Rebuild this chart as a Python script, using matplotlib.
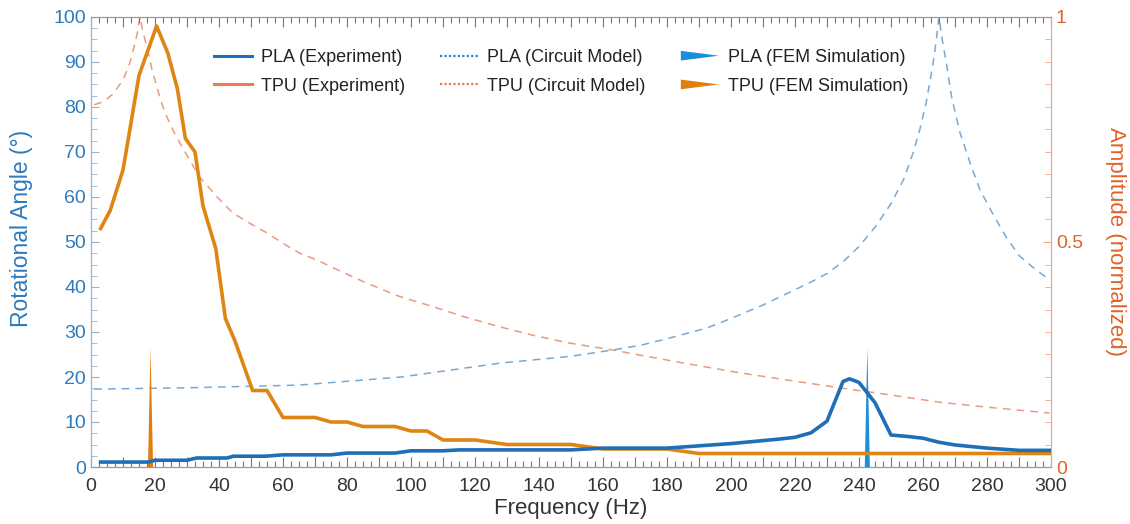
import matplotlib
matplotlib.use("Agg")
import matplotlib.pyplot as plt
from matplotlib.ticker import MultipleLocator, FuncFormatter, FixedLocator
from matplotlib.lines import Line2D
from matplotlib.patches import Polygon
from matplotlib.legend_handler import HandlerBase

plt.rcParams['font.family'] = ['Liberation Sans', 'DejaVu Sans']

# ---------------- data ----------------
pla_exp_freq = [3, 18, 20, 30, 33, 42.5, 44.5, 54.5, 60, 75, 80, 95, 100, 110, 115, 150, 160, 180,
                200, 215, 220, 225, 230, 235, 237, 240, 245, 250, 255, 260, 265, 270, 280, 290, 300]
pla_exp_angle = [1.1, 1.1, 1.5, 1.5, 2.0, 2.0, 2.4, 2.4, 2.7, 2.7, 3.1, 3.1, 3.6, 3.6, 3.8, 3.8, 4.2, 4.2,
                 5.2, 6.2, 6.6, 7.6, 10.2, 19.0, 19.6, 18.8, 14.3, 7.1, 6.8, 6.4, 5.5, 4.9, 4.2, 3.7, 3.7]

tpu_exp_freq = [3, 6, 10, 15, 20.5, 24, 27, 29.5, 32.5, 35, 39, 42, 45, 48, 50.5, 55, 60, 70, 75, 80,
                85, 95, 100, 105, 110, 120, 130, 150, 160, 180, 190, 300]
tpu_exp_angle = [53, 57, 66, 87, 98, 92, 84, 73, 70, 58, 48.5, 33, 28, 22, 17, 17, 11, 11, 10, 10,
                 9, 9, 8, 8, 6, 6, 5, 5, 4, 4, 3, 3]

pla_circ_freq = [1, 30, 65, 97, 128, 150, 163, 172, 180, 192.5, 200, 205, 210, 215, 220, 225, 230, 235,
                 240, 245, 250, 254, 257, 259, 261, 263, 264, 265, 266, 267.5, 269, 271.6, 275, 277.8,
                 282, 286, 290, 295, 299.5]
pla_circ_amp = [0.173, 0.176, 0.182, 0.200, 0.231, 0.246, 0.260, 0.271, 0.285, 0.309, 0.330, 0.345,
                0.360, 0.377, 0.394, 0.411, 0.430, 0.456, 0.490, 0.533, 0.585, 0.640, 0.700, 0.750,
                0.810, 0.890, 0.940, 1.0, 0.950, 0.889, 0.820, 0.742, 0.670, 0.616, 0.560, 0.511,
                0.470, 0.440, 0.416]

tpu_circ_freq = [1, 4, 7, 10, 12, 13.5, 14.5, 15.3, 16.3, 17.5, 19, 20.6, 22, 23.7, 25.5, 27.8, 31, 34,
                 37, 39.4, 44.4, 50, 55, 60, 65, 70.6, 78, 86, 96, 107, 117, 128, 138, 149, 163, 175,
                 190, 203, 215, 234, 250, 265, 280, 299.5]
tpu_circ_amp = [0.805, 0.812, 0.830, 0.860, 0.895, 0.935, 0.965, 1.0, 0.965, 0.933, 0.885, 0.844,
                0.810, 0.778, 0.750, 0.720, 0.680, 0.644, 0.620, 0.600, 0.564, 0.540, 0.520, 0.497,
                0.476, 0.460, 0.435, 0.409, 0.380, 0.356, 0.333, 0.311, 0.293, 0.276, 0.260, 0.244,
                0.225, 0.209, 0.196, 0.176, 0.160, 0.144, 0.133, 0.120]

fem_freq = {'PLA': 242.6, 'TPU': 18.6}
fem_peak = {'PLA': 26.5, 'TPU': 26.5}

y_ticks = list(range(0, 101, 10))
amp_ticks = [0, 0.5, 1]

# ---------------- styles ----------------
C_PLA = '#1F6FB8'
C_TPU = '#DE8514'
C_PLA_C = '#79A9D3'
C_TPU_C = '#E59C82'
C_PLA_F = '#1A90DA'
C_TPU_F = '#E07E10'
C_LEFT = '#2C7BBF'
C_RIGHT = '#E06327'

fig = plt.figure(figsize=(11.3, 5.24), dpi=100)
ax = fig.add_axes([91 / 1130, 1 - 467 / 524, 960 / 1130, 450 / 524])
ax2 = ax.twinx()
ax.set_zorder(ax2.get_zorder() + 1)
ax.patch.set_visible(False)

# circuit model (right axis)
ax2.plot(pla_circ_freq, pla_circ_amp, ls=(0, (5, 4)), color=C_PLA_C, lw=1.1)
ax2.plot(tpu_circ_freq, tpu_circ_amp, ls=(0, (5, 4)), color=C_TPU_C, lw=1.1)

# FEM spikes
half_w = 0.8
for key, col in (('TPU', C_TPU_F), ('PLA', C_PLA_F)):
    f = fem_freq[key]
    h = fem_peak[key]
    ax.fill([f - half_w, f + half_w, f], [0, 0, h], color=col, lw=0, zorder=3)

# experiments
ax.plot(tpu_exp_freq, tpu_exp_angle, color=C_TPU, lw=2.6, zorder=4)
ax.plot(pla_exp_freq, pla_exp_angle, color=C_PLA, lw=2.6, zorder=4)

ax.set_xlim(0, 300)
ax.set_ylim(0, 100)
ax2.set_ylim(0, 1)

# x axis ticks
ax.xaxis.set_major_locator(MultipleLocator(10))
ax.xaxis.set_minor_locator(MultipleLocator(2.5))
ax.xaxis.set_major_formatter(FuncFormatter(lambda v, p: f"{int(round(v))}" if int(round(v)) % 20 == 0 else ""))
ax.tick_params(axis='x', which='both', direction='in', top=True, colors='#777777',
               labelcolor='#333333', labelsize=14, pad=8)
ax.tick_params(axis='x', which='major', length=7, width=0.8)
ax.tick_params(axis='x', which='minor', length=4, width=0.8)

# left y
ax.yaxis.set_major_locator(FixedLocator(y_ticks))
ax.yaxis.set_minor_locator(MultipleLocator(2.5))
ax.tick_params(axis='y', which='both', direction='in', colors='#8FB5D8', labelcolor=C_LEFT,
               labelsize=14, left=True, right=False)
ax.tick_params(axis='y', which='major', length=6)
ax.tick_params(axis='y', which='minor', length=4)

# right y
ax2.yaxis.set_major_locator(FixedLocator(amp_ticks))
ax2.yaxis.set_minor_locator(MultipleLocator(0.05))
ax2.yaxis.set_major_formatter(FuncFormatter(lambda v, p: "0" if v == 0 else ("1" if v == 1 else f"{v:g}")))
ax2.tick_params(axis='y', which='both', direction='in', colors='#F2A484', labelcolor=C_RIGHT,
                labelsize=14)
ax2.tick_params(axis='y', which='major', length=6)
ax2.tick_params(axis='y', which='minor', length=4)

for a in (ax, ax2):
    a.spines['top'].set_color('#9A9A9A')
    a.spines['bottom'].set_color('#9A9A9A')
    a.spines['left'].set_color('#8FB5D8')
    a.spines['right'].set_color('#F2A484')

ax.set_xlabel('Frequency (Hz)', fontsize=16, color='#333333', labelpad=2)
ax.set_ylabel('Rotational Angle (°)', fontsize=16.5, color=C_LEFT)
ax.yaxis.set_label_coords(-0.06, 0.53)
ax2.set_ylabel('Amplitude (normalized)', fontsize=16, color=C_RIGHT, rotation=270, labelpad=31)


class TriHandler(HandlerBase):
    def create_artists(self, legend, orig_handle, xdescent, ydescent, width, height, fontsize, trans):
        cy = height / 2 - ydescent
        x0 = -xdescent
        pts = [[x0, cy - 3.5], [x0, cy + 3.5], [x0 + width, cy]]
        p = Polygon(pts, closed=True, fc=orig_handle.get_facecolor(), ec='none', transform=trans)
        return [p]


tri_pla = Polygon([[0, 0], [1, 0], [0, 1]], fc=C_PLA_F)
tri_tpu = Polygon([[0, 0], [1, 0], [0, 1]], fc=C_TPU_F)
handles = [
    Line2D([], [], color=C_PLA, lw=2.2),
    Line2D([], [], color='#EC7A52', lw=2.2),
    Line2D([], [], color=C_PLA_F, lw=1.6, ls=(0, (1, 1))),
    Line2D([], [], color='#EC7A52', lw=1.6, ls=(0, (1, 1))),
    tri_pla,
    tri_tpu,
]
labels = ['PLA (Experiment)', 'TPU (Experiment)', 'PLA (Circuit Model)', 'TPU (Circuit Model)',
          'PLA (FEM Simulation)', 'TPU (FEM Simulation)']
leg = ax.legend(handles, labels, ncol=3, loc='upper left', bbox_to_anchor=(205 / 1130, 1 - 40 / 524),
                bbox_transform=fig.transFigure, frameon=False, fontsize=13, handlelength=2.1,
                handletextpad=0.5, columnspacing=1.95, labelspacing=0.65, borderpad=0,
                handler_map={Polygon: TriHandler()})
for t in leg.get_texts():
    t.set_color('#222222')

fig.savefig('out.png', dpi=100)
